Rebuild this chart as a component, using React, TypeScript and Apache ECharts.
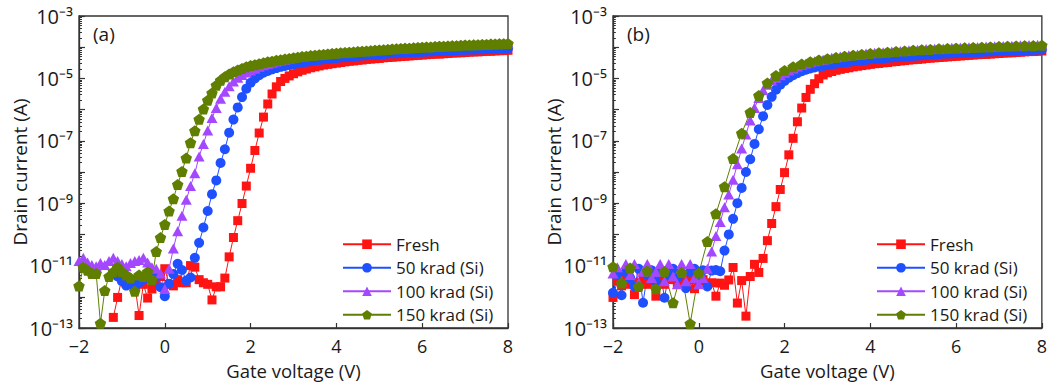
import React, { useEffect, useRef } from 'react';
import * as echarts from 'echarts';

const FONT = "'Open Sans', sans-serif";

// Gate voltage sweep grids (V)
const VG_01 = [-2,-1.9,-1.8,-1.7,-1.6,-1.5,-1.4,-1.3,-1.2,-1.1,-1,-0.9,-0.8,-0.7,-0.6,-0.5,-0.4,-0.3,-0.2,-0.1,0,0.1,0.2,0.3,0.4,0.5,0.6,0.7,0.8,0.9,1,1.1,1.2,1.3,1.4,1.5,1.6,1.7,1.8,1.9,2,2.1,2.2,2.3,2.4,2.5,2.6,2.7,2.8,2.9,3,3.1,3.2,3.3,3.4,3.5,3.6,3.7,3.8,3.9,4,4.1,4.2,4.3,4.4,4.5,4.6,4.7,4.8,4.9,5,5.1,5.2,5.3,5.4,5.5,5.6,5.7,5.8,5.9,6,6.1,6.2,6.3,6.4,6.5,6.6,6.7,6.8,6.9,7,7.1,7.2,7.3,7.4,7.5,7.6,7.7,7.8,7.9,8];
const VG_02 = [-2,-1.8,-1.6,-1.4,-1.2,-1,-0.8,-0.6,-0.4,-0.2,0,0.2,0.4,0.6,0.8,1,1.2,1.4,1.6,1.8,2,2.2,2.4,2.6,2.8,3,3.2,3.4,3.6,3.8,4,4.2,4.4,4.6,4.8,5,5.2,5.4,5.6,5.8,6,6.2,6.4,6.6,6.8,7,7.2,7.4,7.6,7.8,8];

// Drain current, log10(A)  — panel (a)
const freshA = [null,null,null,null,null,null,null,null,
-12.66,-12.02,-11.4,-11.55,-11.45,-11.6,-12.6,-11.6,-12.04,-11.75,
-11.5,-11.35,-11.1,-11.6,-11.65,-11.45,-11.55,-11.55,-11.0,-11.05,
-11.45,-11.55,-11.6,-12.1,-11.68,-11.68,-11.4,-10.72,-10.1,-9.56,
-9.01,-8.45,-7.88,-7.31,-6.75,-6.24,-5.82,-5.5,-5.27,-5.1,
-5.0,-4.92,-4.85,-4.79,-4.74,-4.7,-4.66,-4.63,-4.6,-4.57,
-4.55,-4.53,-4.51,-4.49,-4.47,-4.45,-4.44,-4.42,-4.41,-4.39,
-4.38,-4.37,-4.36,-4.34,-4.33,-4.32,-4.31,-4.3,-4.29,-4.28,
-4.27,-4.26,-4.25,-4.24,-4.23,-4.22,-4.22,-4.21,-4.2,-4.19,
-4.18,-4.18,-4.17,-4.16,-4.15,-4.15,-4.14,-4.13,-4.13,-4.12,
-4.11,-4.11,-4.1];
const krad50A = [null,null,null,null,null,null,null,null,null,
-11.35,
-11.5,-11.64,-11.6,-11.75,-11.55,-11.45,-11.35,-11.3,-11.35,-11.69,
-11.98,-11.58,-11.27,-10.94,-11.14,-11.48,-11.38,-10.75,-10.27,-9.78,
-9.25,-8.71,-8.27,-7.71,-7.27,-6.74,-6.32,-5.93,-5.6,-5.33,
-5.14,-5.0,-4.9,-4.82,-4.76,-4.71,-4.67,-4.63,-4.6,-4.57,
-4.54,-4.52,-4.49,-4.47,-4.45,-4.43,-4.41,-4.39,-4.38,-4.36,
-4.35,-4.33,-4.32,-4.31,-4.3,-4.28,-4.27,-4.26,-4.25,-4.24,
-4.23,-4.22,-4.21,-4.2,-4.2,-4.19,-4.18,-4.17,-4.16,-4.16,
-4.15,-4.14,-4.14,-4.13,-4.12,-4.12,-4.11,-4.11,-4.1,-4.09,
-4.09,-4.08,-4.08,-4.07,-4.07,-4.06,-4.06,-4.05,-4.05,-4.05,
-4.04];
const krad100A = [
-10.85,-10.75,-10.9,-10.98,-11.02,-10.92,-10.98,-10.85,-10.75,-10.85,
-10.95,-11.02,-10.92,-10.85,-10.82,-10.75,-10.9,-11.05,-11.1,-11.25,
-11.75,-11.1,-10.45,-9.9,-9.4,-8.89,-8.45,-8.04,-7.5,-7.1,
-6.67,-6.27,-5.95,-5.65,-5.43,-5.25,-5.1,-4.98,-4.89,-4.81,
-4.75,-4.69,-4.63,-4.58,-4.54,-4.5,-4.46,-4.43,-4.4,-4.37,
-4.34,-4.31,-4.29,-4.28,-4.26,-4.25,-4.23,-4.22,-4.21,-4.19,
-4.18,-4.17,-4.16,-4.15,-4.14,-4.13,-4.12,-4.11,-4.1,-4.09,
-4.08,-4.07,-4.06,-4.05,-4.04,-4.03,-4.02,-4.02,-4.01,-4.0,
-3.99,-3.98,-3.98,-3.97,-3.96,-3.96,-3.95,-3.94,-3.94,-3.93,
-3.92,-3.92,-3.91,-3.91,-3.9,-3.9,-3.89,-3.89,-3.88,-3.88,
-3.87];
const krad150A = [
-11.65,-11.05,-11.15,-11.25,-11.25,-12.85,-11.8,-11.35,-11.2,-11.05,
-11.2,-11.3,-11.4,-11.82,-11.3,-11.35,-11.2,-11.45,-10.55,-10.1,
-9.68,-9.25,-8.86,-8.4,-7.98,-7.55,-7.06,-6.68,-6.31,-5.98,
-5.7,-5.47,-5.22,-5.06,-4.95,-4.86,-4.79,-4.73,-4.68,-4.63,
-4.59,-4.56,-4.53,-4.5,-4.47,-4.45,-4.42,-4.4,-4.38,-4.36,
-4.34,-4.32,-4.3,-4.29,-4.27,-4.26,-4.24,-4.23,-4.22,-4.2,
-4.19,-4.18,-4.17,-4.16,-4.15,-4.14,-4.13,-4.12,-4.11,-4.1,
-4.09,-4.08,-4.07,-4.06,-4.05,-4.04,-4.03,-4.03,-4.02,-4.01,
-4.0,-3.99,-3.99,-3.98,-3.97,-3.97,-3.96,-3.95,-3.95,-3.94,
-3.93,-3.93,-3.92,-3.92,-3.91,-3.91,-3.9,-3.9,-3.89,-3.89,
-3.88];

// Drain current, log10(A) — panel (b)
const freshB = [
-12.02,-11.5,-11.65,-11.45,-11.6,-11.93,-11.55,-11.4,-11.6,-11.5,
-11.98,-11.5,-11.6,-11.45,-11.4,-11.55,-11.5,-11.6,-11.45,-11.74,
-11.5,-11.45,-11.6,-11.55,-11.98,-11.56,-11.63,-11.46,-11.06,-12.2,
-11.48,-12.62,-11.35,-10.96,-11.22,-10.77,-10.2,-9.65,-9.11,-8.56,
-8.02,-7.45,-6.92,-6.39,-5.95,-5.61,-5.35,-5.17,-5.01,-4.89,
-4.82,-4.78,-4.74,-4.71,-4.68,-4.66,-4.63,-4.61,-4.59,-4.57,
-4.55,-4.53,-4.52,-4.5,-4.49,-4.47,-4.46,-4.44,-4.43,-4.41,
-4.4,-4.39,-4.38,-4.36,-4.35,-4.34,-4.33,-4.32,-4.31,-4.3,
-4.29,-4.28,-4.27,-4.26,-4.25,-4.24,-4.23,-4.23,-4.22,-4.21,
-4.2,-4.19,-4.18,-4.18,-4.17,-4.16,-4.15,-4.14,-4.14,-4.13,
-4.12];
const krad50B = [
-11.87,-11.3,-11.95,-11.2,-11.4,-11.67,-11.1,-12.19,-11.3,-11.15,
-11.5,-11.2,-12.03,-11.3,-11.1,-11.4,-11.25,-11.72,-11.2,-11.1,
-11.3,-11.15,-11.67,-11.16,-11.14,-11.18,-10.52,-10.0,-9.5,-9.0,
-8.51,-8.0,-7.59,-7.1,-6.63,-6.21,-5.85,-5.59,-5.36,-5.2,
-5.08,-4.98,-4.9,-4.83,-4.77,-4.72,-4.68,-4.65,-4.62,-4.6,
-4.57,-4.55,-4.53,-4.51,-4.49,-4.47,-4.45,-4.44,-4.42,-4.41,
-4.39,-4.38,-4.37,-4.36,-4.34,-4.33,-4.32,-4.31,-4.3,-4.29,
-4.28,-4.27,-4.26,-4.25,-4.24,-4.23,-4.22,-4.21,-4.21,-4.2,
-4.19,-4.18,-4.18,-4.17,-4.16,-4.16,-4.15,-4.14,-4.14,-4.13,
-4.13,-4.12,-4.12,-4.11,-4.11,-4.1,-4.1,-4.09,-4.09,-4.08,
-4.08];
const krad100B = [
-11.25,-11.05,-11.5,-10.95,-11.3,-10.95,-11.55,-11.2,-10.95,-11.4,
-11.2,-10.95,-11.5,-10.95,-11.35,-11.6,-10.95,-11.5,-10.95,-11.4,
-11.6,-11.4,-11.1,-10.55,-10.05,-9.6,-9.13,-8.72,-8.25,-7.75,
-7.25,-6.8,-6.35,-5.95,-5.63,-5.38,-5.2,-5.07,-4.98,-4.9,
-4.82,-4.75,-4.68,-4.62,-4.57,-4.52,-4.48,-4.45,-4.42,-4.4,
-4.37,-4.34,-4.32,-4.3,-4.28,-4.26,-4.25,-4.23,-4.22,-4.2,
-4.19,-4.18,-4.17,-4.16,-4.15,-4.14,-4.13,-4.12,-4.11,-4.1,
-4.09,-4.08,-4.07,-4.06,-4.06,-4.05,-4.04,-4.04,-4.03,-4.02,
-4.02,-4.01,-4.01,-4.0,-4.0,-3.99,-3.99,-3.98,-3.98,-3.97,
-3.97,-3.96,-3.96,-3.95,-3.95,-3.94,-3.94,-3.93,-3.93,-3.92,
-3.92];
const krad150B = [
-11.04,-11.56,-11.08,-11.67,-11.17,-11.74,-11.19,-12.19,-11.22,-12.86,
-11.24,-10.23,-9.34,-8.47,-7.57,-6.76,-6.09,-5.55,-5.15,-4.91,
-4.75,-4.63,-4.54,-4.47,-4.41,-4.37,-4.33,-4.29,-4.26,-4.23,
-4.2,-4.18,-4.16,-4.14,-4.12,-4.1,-4.08,-4.07,-4.05,-4.04,
-4.03,-4.02,-4.01,-4.0,-3.99,-3.98,-3.97,-3.96,-3.95,-3.95,
-3.94];

const SERIES_NAMES = ['Fresh', '50 krad (Si)', '100 krad (Si)', '150 krad (Si)'];
const Y_LABELS: Record<string, string> = {
  '-13': '10\u207B\u00B9\u00B3', '-11': '10\u207B\u00B9\u00B9', '-9': '10\u207B\u2079',
  '-7': '10\u207B\u2077', '-5': '10\u207B\u2075', '-3': '10\u207B\u00B3',
};
const PANEL_TAGS = ['(a)', '(b)'];

const COLORS = ['#ff1414', '#1f50ff', '#a448ff', '#607f00'];
const PENTAGON = 'path://M0,-10L9.51,-3.09L5.88,8.09L-5.88,8.09L-9.51,-3.09Z';
const SYMBOLS = ['rect', 'circle', 'triangle', PENTAGON];
const SIZES: any[] = [9, 10, [11, 10], [11.5, 11]];

const AXIS_COLOR = '#333';
const TEXT_COLOR = '#1a1a1a';

const minorTicks: number[] = [];
for (let n = -13; n < -3; n++) {
  for (let k = 2; k <= 9; k++) minorTicks.push(n + Math.log10(k));
}

export default function App() {
  const ref = useRef<HTMLDivElement>(null);
  useEffect(() => {
    if (!ref.current) return;
    const chart = echarts.init(ref.current, null, { renderer: 'svg' });
    const grids = [
      { left: 79, top: 16, width: 429, height: 319 },
      { left: 613, top: 16, width: 429, height: 319 },
    ];
    const panels = [
      { vgs: [VG_01, VG_01, VG_01, VG_01], vals: [freshA, krad50A, krad100A, krad150A] },
      { vgs: [VG_01, VG_01, VG_01, VG_02], vals: [freshB, krad50B, krad100B, krad150B] },
    ];
    const xAxes: any[] = [];
    const yAxes: any[] = [];
    const series: any[] = [];
    const legends: any[] = [];
    const graphics: any[] = [];
    grids.forEach((g, gi) => {
      xAxes.push({
        type: 'value', gridIndex: gi, min: -2, max: 8, interval: 2, position: 'bottom',
        axisLine: { show: true, onZero: false, lineStyle: { color: AXIS_COLOR, width: 1.3 } },
        axisTick: { show: true, inside: true, length: 5, lineStyle: { color: AXIS_COLOR, width: 1.2 } },
        axisLabel: {
          fontFamily: FONT, fontSize: 18, color: TEXT_COLOR, margin: 9,
          formatter: (v: number) => (v < 0 ? '\u2212' + Math.abs(v) : String(v)),
        },
        splitLine: { show: false },
        name: 'Gate voltage (V)', nameLocation: 'middle', nameGap: 33, nameMoveOverlap: false,
        nameTextStyle: { fontFamily: FONT, fontSize: 18.5, color: TEXT_COLOR },
      });
      // main log axis (exponent space): labels + decade ticks
      yAxes.push({
        type: 'value', gridIndex: gi, min: -13, max: -3, interval: 1, position: 'left',
        axisLine: { show: true, onZero: false, lineStyle: { color: AXIS_COLOR, width: 1.3 } },
        axisTick: { show: true, inside: true, length: 6, lineStyle: { color: AXIS_COLOR, width: 1.2 } },
        axisLabel: {
          margin: 6, fontFamily: FONT, fontSize: 20, color: TEXT_COLOR,
          formatter: (v: number) => Y_LABELS[String(Math.round(v))] || '',
        },
        splitLine: { show: false },
        name: 'Drain current (A)', nameLocation: 'middle', nameGap: 50, nameMoveOverlap: false,
        nameTextStyle: { fontFamily: FONT, fontSize: 19, color: TEXT_COLOR },
      });
      // minor (2..9 x 10^n) ticks: an axis on the right side shifted onto the left edge
      yAxes.push({
        type: 'value', gridIndex: gi, min: -13, max: -3, position: 'right', offset: -g.width,
        axisLine: { show: false, onZero: false },
        axisTick: { show: true, inside: false, length: 3, customValues: minorTicks, lineStyle: { color: AXIS_COLOR, width: 1 } },
        axisLabel: { show: false },
        splitLine: { show: false },
      });
      const p = panels[gi];
      SERIES_NAMES.forEach((name, si) => {
        series.push({
          type: 'line', name, xAxisIndex: gi, yAxisIndex: gi * 2,
          data: p.vgs[si].map((v, i) => [v, p.vals[si][i]]),
          symbol: SYMBOLS[si], symbolSize: SIZES[si],
          itemStyle: { color: COLORS[si] },
          lineStyle: { color: COLORS[si], width: 1 },
          connectNulls: false, showAllSymbol: true,
          emphasis: { disabled: true },
        });
      });
      legends.push({
        orient: 'vertical', left: g.left + 258, top: 229,
        data: SERIES_NAMES, itemWidth: 48, itemHeight: 12, itemGap: 3,
        textStyle: { fontFamily: FONT, fontSize: 17, color: TEXT_COLOR, lineHeight: 20.5 },
        selectedMode: false,
      });
      graphics.push({
        type: 'text', left: g.left + 14, top: 24,
        style: { text: PANEL_TAGS[gi], fontFamily: FONT, fontSize: 19, fill: TEXT_COLOR },
      });
    });
    chart.setOption({
      animation: false,
      grid: grids.map((g) => ({ ...g, show: true, borderColor: AXIS_COLOR, borderWidth: 1.3, backgroundColor: 'transparent' })),
      xAxis: xAxes,
      yAxis: yAxes,
      series,
      legend: legends,
      graphic: graphics,
    });
    return () => chart.dispose();
  }, []);
  return <div ref={ref} style={{ position: 'absolute', left: 0, top: 0, width: 1050, height: 385, background: '#fff' }} />;
}
